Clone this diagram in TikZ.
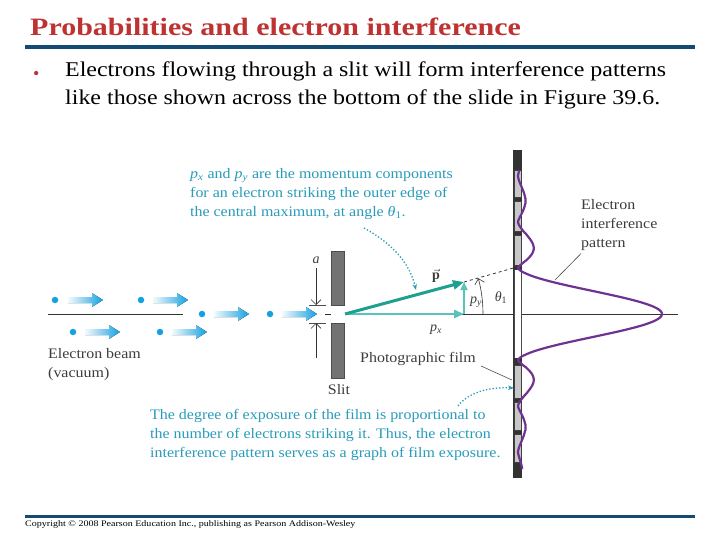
\documentclass[tikz,border=0pt]{standalone}
\usepackage{fontspec}
\setmainfont{Liberation Serif}
\usetikzlibrary{arrows.meta}
\definecolor{titlered}{RGB}{190,50,50}
\definecolor{barblue}{RGB}{20,75,115}
\definecolor{tealtxt}{RGB}{40,155,185}
\definecolor{vecteal}{RGB}{30,160,145}
\definecolor{lvecteal}{RGB}{90,195,185}
\definecolor{beamcyan}{RGB}{20,160,225}
\definecolor{purp}{RGB}{110,50,145}
\definecolor{graytxt}{RGB}{60,60,60}
\tikzset{
 lbl/.style={font=\fontsize{14.5}{19}\selectfont\addfontfeatures{FakeStretch=1.1}, text=graytxt, align=left, inner sep=0pt, anchor=north west},
 note/.style={font=\fontsize{14.5}{19}\selectfont\addfontfeatures{FakeStretch=1.1}, text=tealtxt, align=left, inner sep=0pt, anchor=north west},
 dot/.style={circle, fill=beamcyan, inner sep=0pt, minimum size=6.5pt},
 lightcell/.style={fill=black!22, draw=black!75, line width=0.6pt},
 darkcell/.style={fill=black!80},
 leader/.style={draw=black!70, line width=0.6pt},
 dotarrow/.style={draw=tealtxt, line width=1.3pt, dotted, -{Stealth[length=6pt]}},
}
\newcommand\beamarrow[2]{\fill[left color=beamcyan!5, right color=beamcyan] (#1,#2-3) -- (#1+24,#2-3) -- (#1+24,#2-7) -- (#1+35,#2) -- (#1+24,#2+7) -- (#1+24,#2+3) -- (#1,#2+3) -- cycle;}
\begin{document}
\begin{tikzpicture}[x=1pt,y=-1pt]
\useasboundingbox (0,0) rectangle (720,540);
% header
\node[anchor=west, inner sep=0pt, text=titlered, font=\fontsize{25}{30}\selectfont\bfseries\addfontfeatures{FakeStretch=1.2}] (title) at (30,27) {Probabilities and electron interference};
\draw[barblue, line width=4pt] (25,47.5) -- (695,47.5);
\node[anchor=west, inner sep=0pt, text=titlered, font=\fontsize{18}{20}\selectfont] (bul) at (33,75) {•};
\node[anchor=north west, inner sep=0pt, align=left, font=\fontsize{21}{28}\selectfont\addfontfeatures{FakeStretch=1.14}] (bt) at (65,62) {Electrons flowing through a slit will form interference patterns\\like those shown across the bottom of the slide in Figure 39.6.};
\draw[barblue, line width=2.5pt] (25,516.5) -- (695,516.5);
\node[anchor=west, inner sep=0pt, font=\fontsize{8.5}{9}\selectfont\addfontfeatures{FakeStretch=1.18}] (copy) at (25,524) {Copyright © 2008 Pearson Education Inc., publishing as Pearson Addison-Wesley};
% axis
\coordinate (axL) at (48,314); \coordinate (axLe) at (183,314);
\draw[black!80, line width=0.9pt] (axL) -- (axLe);
\coordinate (o) at (345,314); \coordinate (axR) at (678,314);
\draw[black!80, line width=0.9pt] (o) -- (axR);
\draw[black!80, line width=0.9pt] (325,314) -- (331,314);
% beam
\node[dot] (d1) at (55,300) {}; \beamarrow{68}{300}
\node[dot] (d2) at (141,300) {}; \beamarrow{153}{300}
\node[dot] (d3) at (73,332) {}; \beamarrow{85}{332}
\node[dot] (d4) at (160,332) {}; \beamarrow{172}{332}
\node[dot] (d5) at (202,314) {}; \beamarrow{214}{314}
\node[dot] (d6) at (270,314) {}; \beamarrow{282}{314}
\node[lbl] (beam) at (48,348) {Electron beam\\(vacuum)};
% slit
\fill[black!55, draw=black!70] (331,251) rectangle (344,305);
\fill[black!55, draw=black!70] (331,323) rectangle (344,378);
\draw[black!70, line width=0.6pt] (309,305) -- (326,305) (309,323) -- (326,323);
\draw[black!80, line width=0.6pt, -{Straight Barb[length=5pt]}] (316,268) -- (316,305);
\draw[black!80, line width=0.6pt, -{Straight Barb[length=5pt]}] (316,358) -- (316,323);
\node[font=\fontsize{14}{16}\selectfont\itshape, text=graytxt] (a) at (316,260) {a};
\node[lbl, anchor=north] (slit) at (339,384) {Slit};
% film
\fill[darkcell] (513,150) rectangle (522,478);
\fill[white] (514,270) rectangle (521,358);
\draw[black!70, line width=0.6pt] (514,270) -- (514,358) (521,270) -- (521,358);
\foreach \a/\b in {170/197,201/231,235/265,365/398,402/430,434/462}
  \draw[lightcell] (514,\a) rectangle (521,\b);
% vectors
\coordinate (tip) at (464,282); \coordinate (pxe) at (464,314);
\coordinate (filmhit) at (517,267);
\draw[black!80, dashed, line width=0.8pt] (tip) -- (filmhit);
\draw[lvecteal, line width=2.5pt, -{Triangle[length=10pt,width=8pt]}] (o) -- (pxe);
\draw[lvecteal, line width=2.5pt, -{Triangle[length=8pt,width=7pt]}] (pxe) -- (tip);
\draw[vecteal, line width=3pt, -{Triangle[length=11pt,width=9pt]}] (o) -- (tip);
\draw[black!80, line width=0.6pt, -{Straight Barb[length=5pt]}] (483,314) arc[start angle=0, end angle=-15, radius=138];
\node[font=\fontsize{14}{16}\selectfont\itshape, text=graytxt] (px) at (436,330) {p\textsubscript{x}};
\node[font=\fontsize{14}{16}\selectfont\itshape\bfseries, text=graytxt] (p) at (436,276) {$\vec{\mathbf{p}}$};
\node[font=\fontsize{14}{16}\selectfont\itshape, text=graytxt] (py) at (476,302) {p\textsubscript{y}};
\node[font=\fontsize{14}{16}\selectfont, text=graytxt] (th) at (501,298) {\textit{θ}\textsubscript{1}};
% curve
\draw[purp, line width=2.2pt, line join=round] plot[domain=-9.8:10.6, samples=300, smooth] ({518+144*pow(abs(sin(\x r)/\x),1.45)}, {314+\x*46/pi});
% labels
\node[lbl] (eip) at (581,199) {Electron\\interference\\pattern};
\coordinate (eipl) at (555,280);
\draw[leader] (eip.south west) ++(0,3) -- (eipl);
\node[lbl] (film) at (360,352) {Photographic film};
\coordinate (filml) at (512,380);
\draw[leader] (481,366) -- (filml);
\node[note] (n1) at (190,168) {\textit{p}\textsubscript{\textit{x}} and \textit{p}\textsubscript{\textit{y}} are the momentum components\\for an electron striking the outer edge of\\the central maximum, at angle \textit{θ}\textsubscript{1}.};
\coordinate (n1e) at (416,290);
\draw[dotarrow] (364,228) .. controls (395,245) and (410,265) .. (n1e);
\node[note] (n2) at (150,409) {The degree of exposure of the film is proportional to\\the number of electrons striking it. Thus, the electron\\interference pattern serves as a graph of film exposure.};
\coordinate (n2e) at (514,388);
\draw[dotarrow] (458,406) .. controls (470,390) and (495,387) .. (n2e);
\end{tikzpicture}
\end{document}
